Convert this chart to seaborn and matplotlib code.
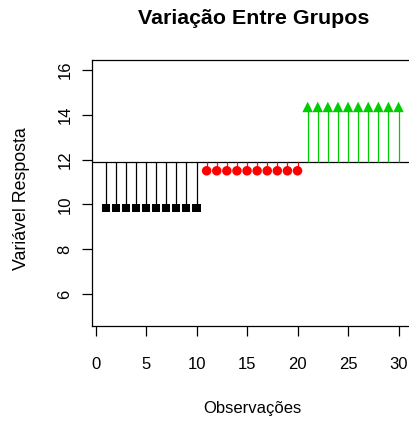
import matplotlib
matplotlib.use("Agg")
import matplotlib.pyplot as plt
import seaborn as sns
import pandas as pd

# ---- data ----
obs_a = [1, 2, 3, 4, 5, 6, 7, 8, 9, 10]
obs_b = [11, 12, 13, 14, 15, 16, 17, 18, 19, 20]
obs_c = [21, 22, 23, 24, 25, 26, 27, 28, 29, 30]
val_a = [9.85, 9.85, 9.85, 9.85, 9.85, 9.85, 9.85, 9.85, 9.85, 9.85]
val_b = [11.5, 11.5, 11.5, 11.5, 11.5, 11.5, 11.5, 11.5, 11.5, 11.5]
val_c = [14.35, 14.35, 14.35, 14.35, 14.35, 14.35, 14.35, 14.35, 14.35, 14.35]
groups = ["A", "B", "C"]
grand_mean = 11.88
x_ticks = [0, 5, 10, 15, 20, 25, 30]
y_ticks = [6, 8, 10, 12, 14, 16]

title = "Variação Entre Grupos"
xlabel = "Observações"
ylabel = "Variável Resposta"

colors = {"A": "#000000", "B": "#FF0000", "C": "#00CD00"}
markers = {"A": "s", "B": "o", "C": "^"}

df = pd.DataFrame({
    "obs": obs_a + obs_b + obs_c,
    "val": val_a + val_b + val_c,
    "grp": [groups[0]] * len(obs_a) + [groups[1]] * len(obs_b) + [groups[2]] * len(obs_c),
})

sns.set_theme(style="white")
plt.rcParams["font.family"] = ["Liberation Sans", "DejaVu Sans"]

W, H = 409, 421
fig = plt.figure(figsize=(W / 100, H / 100), dpi=100)
# axes in pixel geometry: left 92, top 60, bottom 326, right beyond figure
ax_left, ax_right, ax_top, ax_bottom = 92, 420, 60, 326
ax = fig.add_axes([ax_left / W, (H - ax_bottom) / H,
                   (ax_right - ax_left) / W, (ax_bottom - ax_top) / H])

px_per_x = 10.1
x0 = -0.35
ax.set_xlim(x0, x0 + (ax_right - ax_left) / px_per_x)
ax.set_ylim(4.571, 16.446)

# grand mean line
ax.axhline(grand_mean, color="black", lw=0.9, zorder=1)

# deviation segments
for g in groups:
    sub = df[df["grp"] == g]
    ax.vlines(sub["obs"], grand_mean, sub["val"], color=colors[g], lw=0.9, zorder=2)

sizes = {"A": 34, "B": 47, "C": 57}
for g in groups:
    sub = df[df["grp"] == g]
    sns.scatterplot(data=sub, x="obs", y="val", color=colors[g], marker=markers[g],
                    s=sizes[g], linewidth=0, edgecolor="none", ax=ax, zorder=3,
                    legend=False)

ax.set_xticks(x_ticks)
ax.set_yticks(y_ticks)
ax.set_xticklabels([str(v) for v in x_ticks])
ax.set_yticklabels([str(v) for v in y_ticks], rotation=90, va="center")
ax.set_xlabel("")
ax.set_ylabel("")

for side in ["left", "bottom", "top", "right"]:
    ax.spines[side].set_color("black")
    ax.spines[side].set_linewidth(0.9)
    ax.spines[side].set_visible(True)

ax.tick_params(axis="both", which="major", direction="out", length=7.2, width=0.9,
               color="black", labelsize=12, labelcolor="black",
               bottom=True, left=True, top=False, right=False)
ax.tick_params(axis="x", pad=15)
ax.tick_params(axis="y", pad=7)
ax.set_facecolor("white")
fig.patch.set_facecolor("white")

fig.text(253.5 / W, 1 - 18 / H, title, ha="center", va="center",
         fontsize=15.4, fontweight="bold", color="black")
fig.text(252 / W, 1 - 408 / H, xlabel, ha="center", va="center",
         fontsize=12, color="black")
fig.text(22 / W, 1 - 198.5 / H, ylabel, ha="center", va="center",
         rotation=90, fontsize=12.8, color="black")

fig.savefig("out.png", dpi=100)
